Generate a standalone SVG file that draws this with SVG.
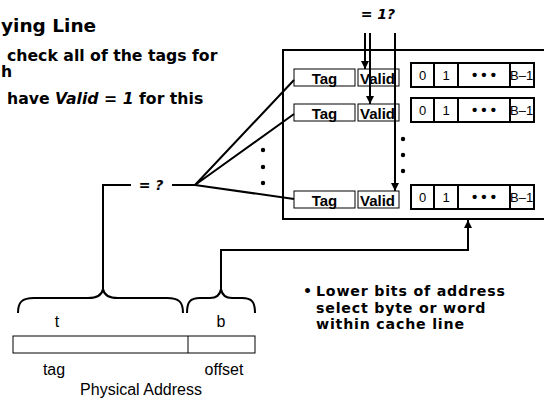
<svg xmlns="http://www.w3.org/2000/svg" width="544" height="402" viewBox="0 0 544 402">
<style>
.b{font-family:"DejaVu Sans",Verdana,sans-serif;font-weight:bold;font-size:15.7px;fill:#000}
.bl{font-family:"DejaVu Sans",Verdana,sans-serif;font-weight:bold;font-size:14.2px;letter-spacing:0.8px;fill:#000}
.lab{font-family:"Liberation Sans",Arial,sans-serif;font-size:16px;fill:#000}
.cell{font-family:"Liberation Sans",Arial,sans-serif;font-size:13px;fill:#000}
.tv{font-family:"Liberation Sans",Arial,sans-serif;font-size:15px;font-weight:bold;fill:#000}
.thin{fill:#fff;stroke:#000;stroke-width:1}
.data{fill:#fff;stroke:#000;stroke-width:2}
.ln{fill:none;stroke:#000;stroke-width:2}
</style>
<defs>
<marker id="ah" viewBox="0 0 10 10" refX="10" refY="5" markerWidth="8" markerHeight="8" markerUnits="userSpaceOnUse" orient="auto">
<path d="M0,0 L10,5 L0,10 z" fill="#000"/>
</marker>
</defs>
<rect width="544" height="402" fill="#fff"/>
<g id="title">
<text class="b" x="1" y="32" style="font-size:18.5px">ying Line</text>
</g>
<g id="notes">
<text class="b" x="7" y="61">check all of the tags for</text>
<text class="b" x="1" y="77">h</text>
<text class="b" x="7" y="104">have <tspan font-style="italic">Valid = 1</tspan> for this</text>
<text class="bl" x="303" y="296">•</text>
<text class="bl" x="316" y="296">Lower bits of address</text>
<text class="bl" x="316" y="312.6">select byte or word</text>
<text class="bl" x="316" y="329.2">within cache line</text>
</g>
<g id="cache">
<path class="ln" d="M550,50 L283,50 L283,219 L550,219"/>
<circle cx="403" cy="139" r="2.2"/>
<circle cx="403" cy="155" r="2.2"/>
<circle cx="403" cy="171" r="2.2"/>
</g>
<g id="row1">
<rect class="thin" x="294" y="69" width="61" height="17"/>
<text class="tv" x="324.5" y="83.5" text-anchor="middle">Tag</text>
<rect class="thin" x="358" y="69" width="41" height="17"/>
<text class="tv" x="360" y="83.5">Valid</text>
<rect class="data" x="411" y="63" width="123" height="24"/>
<path class="ln" d="M434,63 V87 M458,63 V87 M510,63 V87"/>
<text class="cell" x="422.5" y="80" text-anchor="middle">0</text>
<text class="cell" x="446" y="80" text-anchor="middle">1</text>
<text class="tv" x="484" y="80" text-anchor="middle">• • •</text>
<text class="cell" x="510" y="80">B–1</text>
</g>
<g id="row2">
<rect class="thin" x="294" y="104" width="61" height="17"/>
<text class="tv" x="324.5" y="118.5" text-anchor="middle">Tag</text>
<rect class="thin" x="358" y="104" width="41" height="17"/>
<text class="tv" x="360" y="118.5">Valid</text>
<rect class="data" x="411" y="98" width="123" height="24"/>
<path class="ln" d="M434,98 V122 M458,98 V122 M510,98 V122"/>
<text class="cell" x="422.5" y="115" text-anchor="middle">0</text>
<text class="cell" x="446" y="115" text-anchor="middle">1</text>
<text class="tv" x="484" y="115" text-anchor="middle">• • •</text>
<text class="cell" x="510" y="115">B–1</text>
</g>
<g id="row3">
<rect class="thin" x="294" y="191" width="61" height="17"/>
<text class="tv" x="324.5" y="205.5" text-anchor="middle">Tag</text>
<rect class="thin" x="358" y="191" width="41" height="17"/>
<text class="tv" x="360" y="205.5">Valid</text>
<rect class="data" x="411" y="185" width="123" height="24"/>
<path class="ln" d="M434,185 V209 M458,185 V209 M510,185 V209"/>
<text class="cell" x="422.5" y="202" text-anchor="middle">0</text>
<text class="cell" x="446" y="202" text-anchor="middle">1</text>
<text class="tv" x="484" y="202" text-anchor="middle">• • •</text>
<text class="cell" x="510" y="202">B–1</text>
</g>
<g id="compare">
<text class="b" x="378" y="19" text-anchor="middle" font-style="italic" style="font-size:14px">= 1?</text>
<text class="b" x="151" y="190" text-anchor="middle" font-style="italic" style="font-size:14px">= ?</text>
<circle cx="263" cy="150" r="2.2"/>
<circle cx="263" cy="167" r="2.2"/>
<circle cx="263" cy="183" r="2.2"/>
</g>
<g id="address">
<rect class="thin" x="13" y="336" width="242" height="17"/>
<line x1="188" y1="336" x2="188" y2="353" stroke="#000" stroke-width="1"/>
<path class="ln" d="M18,313 C18,302 22,298 34,298 L88,298 C98,298 102,295 103,289 C104,295 108,298 118,298 L167,298 C179,298 183,302 183,313"/>
<path class="ln" d="M187,313 C187,302 190,298 200,298 L210,298 C217,298 220,295 221,289 C222,295 225,298 232,298 L242,298 C252,298 255,302 255,313"/>
<text class="lab" x="57" y="327" text-anchor="middle">t</text>
<text class="lab" x="221" y="327" text-anchor="middle">b</text>
<text class="lab" x="54" y="375" text-anchor="middle">tag</text>
<text class="lab" x="224" y="375" text-anchor="middle">offset</text>
<text class="lab" x="141" y="395" text-anchor="middle">Physical Address</text>
</g>
<g id="connectors">
<path class="ln" d="M365,33 V69" marker-end="url(#ah)"/>
<path class="ln" d="M370,33 V104" marker-end="url(#ah)"/>
<path class="ln" d="M395,33 V191" marker-end="url(#ah)"/>
<path class="ln" d="M195,185 L294,80 M195,185 L294,114 M195,185 L294,199"/>
<path class="ln" d="M172,185 H195 M103,289 V185 H131"/>
<path class="ln" d="M221,289 V250 H468 V220" marker-end="url(#ah)"/>
</g>
</svg>
